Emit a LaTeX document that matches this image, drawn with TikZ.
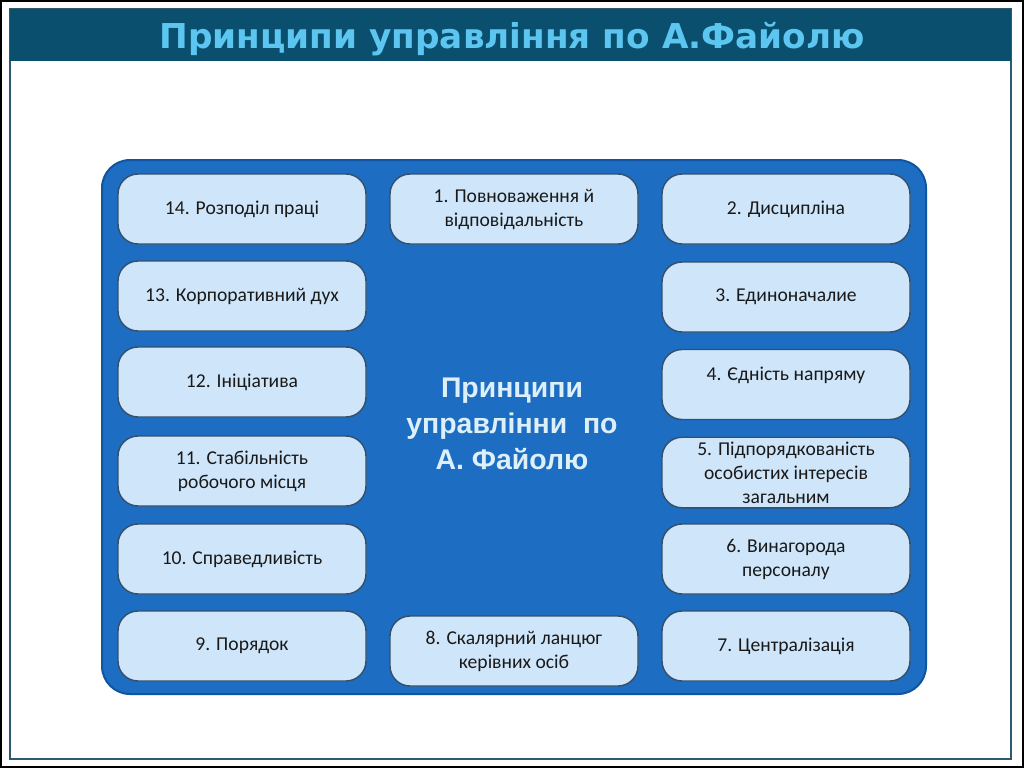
\documentclass[tikz,border=0pt]{standalone}
\usepackage{fontspec}
\setmainfont{Carlito}
\newfontfamily\titlefont{DejaVu Sans}
\newfontfamily\centerfont{Liberation Sans}
\definecolor{barcol}{HTML}{0B4F6E}
\definecolor{framecol}{HTML}{2E5A6E}
\definecolor{panelcol}{HTML}{1D6EC3}
\definecolor{paneledge}{HTML}{0F55A0}
\definecolor{boxfill}{HTML}{CFE6FA}
\definecolor{boxedge}{HTML}{34506C}
\definecolor{titlecol}{HTML}{5CC6F0}
\definecolor{centercol}{HTML}{DDF0FA}
\tikzset{
  boxtext/.style={font=\fontsize{14.7}{18}\selectfont, text=black!90},
  pbox/.style={boxtext, draw=boxedge, line width=1.1pt, fill=boxfill, rounded corners=15pt,
    minimum width=186pt, minimum height=52.5pt, align=center},
  panel/.style={draw=paneledge, line width=1.5pt, fill=panelcol, rounded corners=21pt},
}
\begin{document}
\begin{tikzpicture}[x=0.75pt,y=-0.75pt]
\useasboundingbox (0,0) rectangle (1024,768);
\fill[white] (0,0) rectangle (1024,768);
\draw[black, line width=1.5pt] (1,1) rectangle (1023,767);
\draw[framecol, line width=1.1pt] (10,9) rectangle (1011,759);
\fill[barcol] (10,9) rectangle (1011,61);
\node[font=\titlefont\bfseries\fontsize{25.7}{28}\selectfont, text=titlecol] (title) at (512,39) {Принципи управління по А.Файолю};
\draw[panel] (102,160) rectangle (926,694);
% left column
\node[pbox] (b14) at (242,209) {14. Розподіл праці};
\node[pbox] (b13) at (242,296) {13. Корпоративний дух};
\node[pbox] (b12) at (242,382) {12. Ініціатива};
\node[pbox] (b11) at (242,471) {11. Стабільність\\робочого місця};
\node[pbox] (b10) at (242,559) {10. Справедливість};
\node[pbox] (b9) at (242,646) {9. Порядок};
% center column
\node[pbox] (b1) at (514,209) {1. Повноваження й\\відповідальність};
\node[pbox] (b8) at (514,651) {8. Скалярний ланцюг\\керівних осіб};
% right column
\node[pbox] (b2) at (786,209) {2. Дисципліна};
\node[pbox] (b3) at (786,297) {3. Единоначалие};
\node[pbox] (b4) at (786,384.5) {};
\node[boxtext] (t4) at (786,375) {4. Єдність напряму};
\node[pbox] (b5) at (786,472.5) {5. Підпорядкованість\\особистих інтересів\\загальним};
\node[pbox] (b6) at (786,559) {6. Винагорода\\персоналу};
\node[pbox] (b7) at (786,646) {7. Централізація};
% center title
\node[font=\centerfont\bfseries\fontsize{21.3}{27}\selectfont, text=centercol, align=center] (ct) at (512,424) {Принципи\\управлінни\ \ по\\А. Файолю};
\end{tikzpicture}
\end{document}
